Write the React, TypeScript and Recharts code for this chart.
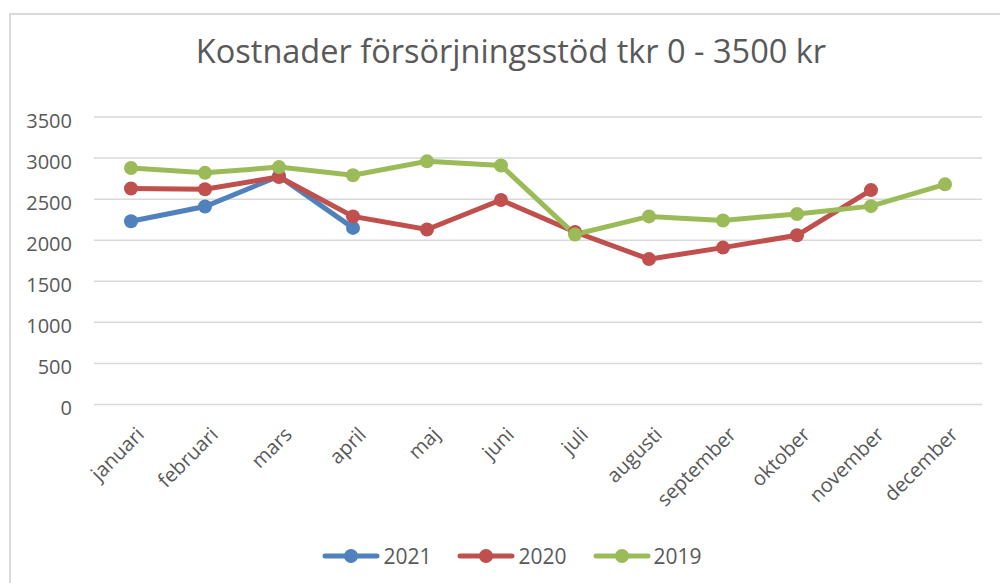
import React from 'react';
import { LineChart, Line, XAxis, YAxis, CartesianGrid, Legend } from 'recharts';

const months = ['januari', 'februari', 'mars', 'april', 'maj', 'juni', 'juli', 'augusti', 'september', 'oktober', 'november', 'december'];
const values2021: (number | null)[] = [2230, 2410, 2780, 2150, null, null, null, null, null, null, null, null];
const values2020: (number | null)[] = [2630, 2620, 2770, 2290, 2130, 2490, 2100, 1770, 1910, 2060, 2610, null];
const values2019: (number | null)[] = [2880, 2820, 2890, 2790, 2960, 2910, 2070, 2290, 2240, 2320, 2415, 2680];
const yTicks = [0, 500, 1000, 1500, 2000, 2500, 3000, 3500];
const title = 'Kostnader försörjningsstöd tkr 0 - 3500 kr';

const series = [
  { key: 'y2021', name: '2021', color: '#4F81BD' },
  { key: 'y2020', name: '2020', color: '#C0504D' },
  { key: 'y2019', name: '2019', color: '#9BBB59' },
];

const data = months.map((m, i) => ({
  month: m,
  y2021: values2021[i],
  y2020: values2020[i],
  y2019: values2019[i],
}));

const FONT = '"Open Sans", "Liberation Sans", sans-serif';
const TEXT = '#595959';

const YTick = (props: any) => {
  const { y, payload } = props;
  return (
    <text x={72} y={y + 3} textAnchor="end" dominantBaseline="central" fill={TEXT} fontSize={20} fontFamily={FONT}>
      {payload.value}
    </text>
  );
};

const XTick = (props: any) => {
  const { x, y, payload } = props;
  const ax = x + 9;
  const ay = y + 18;
  return (
    <text x={ax} y={ay} textAnchor="end" dominantBaseline="central" fill={TEXT} fontSize={20} fontFamily={FONT} transform={`rotate(-45, ${ax}, ${ay})`}>
      {payload.value}
    </text>
  );
};

const LegendContent = () => {
  return (
    <div style={{ display: 'flex', justifyContent: 'center', gap: 26, fontFamily: FONT, fontSize: 21, color: TEXT }}>
      {series.map((s) => (
        <div key={s.key} style={{ display: 'flex', alignItems: 'center' }}>
          <svg width={58} height={20} style={{ marginRight: 3 }}>
            <line x1={3} y1={10} x2={55} y2={10} stroke={s.color} strokeWidth={5} strokeLinecap="round" />
            <circle cx={29} cy={10} r={7} fill={s.color} />
          </svg>
          <span>{s.name}</span>
        </div>
      ))}
    </div>
  );
};

export default function App() {
  return (
    <div style={{ position: 'absolute', left: 0, top: 0, width: 1000, height: 583, overflow: 'hidden', background: '#fff' }}>
      <div style={{ position: 'absolute', left: 9, top: 13, width: 1010, height: 600, border: '2px solid #d9d9d9' }} />
      <div style={{ position: 'absolute', left: 0, top: 29, width: 1022, textAlign: 'center', fontFamily: FONT, fontSize: 32.5, lineHeight: '44px', color: TEXT }}>
        {title}
      </div>
      <div style={{ position: 'absolute', left: 0, top: 0 }}>
        <LineChart width={1000} height={583} data={data} margin={{ top: 117, right: 18, left: 0, bottom: 0 }}>
          <CartesianGrid horizontal vertical={false} stroke="#d9d9d9" strokeWidth={1.5} />
          <XAxis dataKey="month" height={178.5} padding={{ left: 37, right: 37 }} axisLine={false} tickLine={false} tick={<XTick />} interval={0} />
          <YAxis width={94} domain={[0, 3500]} ticks={yTicks} axisLine={false} tickLine={false} tick={<YTick />} interval={0} />
          <Legend layout="horizontal" verticalAlign="middle" align="center" wrapperStyle={{ top: 542, left: 12, width: 1000 }} content={<LegendContent />} />
          {series.map((s) => (
            <Line
              key={s.key}
              type="linear"
              dataKey={s.key}
              name={s.name}
              stroke={s.color}
              strokeWidth={5}
              dot={{ r: 7, fill: s.color, stroke: s.color, strokeWidth: 0 }}
              activeDot={false}
              connectNulls={false}
              isAnimationActive={false}
              legendType="line"
            />
          ))}
        </LineChart>
      </div>
    </div>
  );
}
